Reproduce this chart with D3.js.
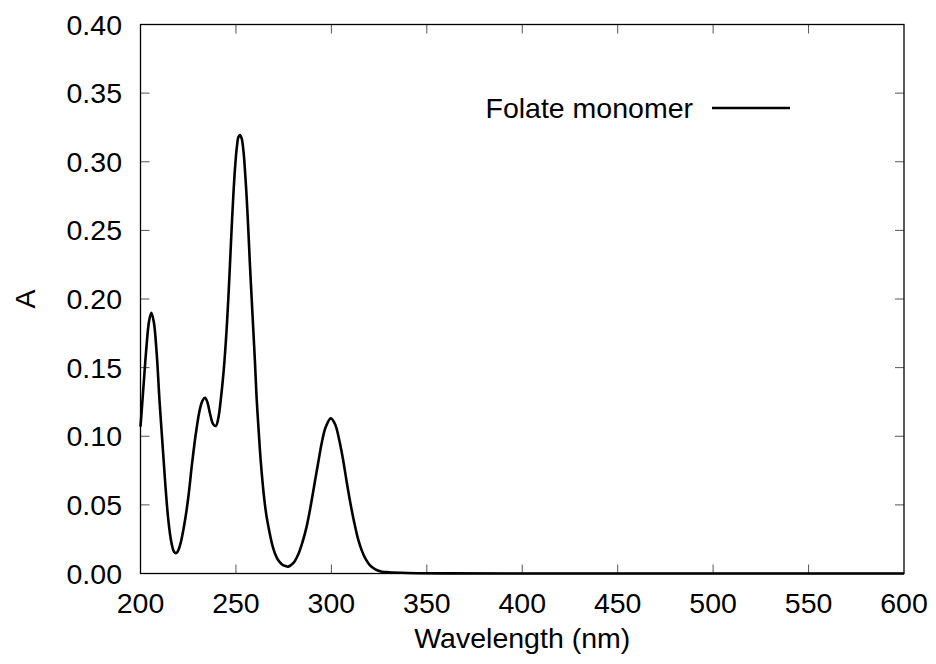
<!DOCTYPE html>
<html>
<head>
<meta charset="utf-8">
<script src="https://cdn.jsdelivr.net/npm/d3@7"></script>
<style>
  body { margin: 0; background: #fff; }
  svg text { font-family: "Liberation Sans", Arial, Helvetica, sans-serif; fill: #000; }
</style>
</head>
<body>
<div id="chart"></div>
<script>
// Folate monomer UV-Vis spectrum
const wavelength = [200, 201.5, 203, 204.5, 205.7, 207, 208.5, 210, 211.5, 213, 214.5, 216, 217.5, 218.5, 219.5,
  221, 223, 225, 227, 229, 231, 232.5, 233.8, 235, 236.5, 238, 239.5,
  241, 242, 243, 244, 245.1, 246, 246.9, 247.7, 248.6, 249.5, 250.5, 251.3, 252.1, 253, 254, 255, 255.6,
  256.5, 257.3, 258.2, 259.1, 260, 260.8, 262, 263.1, 264.7, 266, 267.3, 269, 270.4, 272, 274, 276, 277.4,
  280, 282.5, 285, 287, 289, 291, 293, 295, 297, 299.7, 302, 304, 306, 308, 310, 312, 314, 316, 318,
  320, 323, 326, 330, 340, 360, 400, 500, 600];
const absorbance = [0.107, 0.135, 0.163, 0.184, 0.190, 0.183, 0.160, 0.125, 0.095, 0.065, 0.040, 0.024, 0.016, 0.0147, 0.016,
  0.022, 0.036, 0.055, 0.080, 0.102, 0.119, 0.126, 0.128, 0.125, 0.116, 0.109, 0.1075,
  0.115, 0.126, 0.139, 0.155, 0.1774, 0.200, 0.226, 0.250, 0.2745, 0.295, 0.311, 0.318, 0.3195, 0.317, 0.307, 0.288, 0.2745,
  0.250, 0.226, 0.2015, 0.1774, 0.153, 0.1288, 0.102, 0.080, 0.056, 0.042, 0.032, 0.021, 0.0147, 0.010, 0.0068, 0.0054, 0.005,
  0.0075, 0.0135, 0.0235, 0.034, 0.048, 0.064, 0.080, 0.0955, 0.1065, 0.113, 0.1086, 0.098, 0.084, 0.067, 0.051, 0.037, 0.025, 0.0165, 0.0104,
  0.0063, 0.003, 0.0015, 0.0009, 0.0004, 0.0001, 0, 0, 0];

const xTicks = [200, 250, 300, 350, 400, 450, 500, 550, 600];
const yTicks = [0, 0.05, 0.10, 0.15, 0.20, 0.25, 0.30, 0.35, 0.40];
const seriesName = 'Folate monomer';

const W = 936, H = 664;
const margin = { left: 140.5, right: 32, top: 24.5, bottom: 90.5 };
const iw = W - margin.left - margin.right;
const ih = H - margin.top - margin.bottom;
const fontSize = '28.5px';

const svg = d3.select('#chart').append('svg')
  .attr('width', W).attr('height', H);

const x = d3.scaleLinear().domain([200, 600]).range([margin.left, margin.left + iw]);
const y = d3.scaleLinear().domain([0, 0.4]).range([margin.top + ih, margin.top]);

const tickLen = 9;
const g = svg.append('g');

// ticks (inward, mirrored on top and right)
xTicks.forEach(t => {
  if (t === 200 || t === 600) return;
  g.append('line').attr('x1', x(t)).attr('x2', x(t))
    .attr('y1', y(0)).attr('y2', y(0) - tickLen)
    .attr('stroke', '#555').attr('stroke-width', 1);
  g.append('line').attr('x1', x(t)).attr('x2', x(t))
    .attr('y1', y(0.4)).attr('y2', y(0.4) + tickLen)
    .attr('stroke', '#555').attr('stroke-width', 1);
});
yTicks.forEach(t => {
  if (t === 0 || t === 0.4) return;
  g.append('line').attr('x1', x(200)).attr('x2', x(200) + tickLen)
    .attr('y1', y(t)).attr('y2', y(t))
    .attr('stroke', '#555').attr('stroke-width', 1);
  g.append('line').attr('x1', x(600)).attr('x2', x(600) - tickLen)
    .attr('y1', y(t)).attr('y2', y(t))
    .attr('stroke', '#555').attr('stroke-width', 1);
});

// tick labels
g.selectAll('.xl').data(xTicks).enter().append('text')
  .attr('x', d => x(d)).attr('y', 613)
  .attr('text-anchor', 'middle').attr('font-size', fontSize)
  .text(d => d);
g.selectAll('.yl').data(yTicks).enter().append('text')
  .attr('x', 122).attr('y', d => y(d) + 10)
  .attr('text-anchor', 'end').attr('font-size', fontSize)
  .text(d => d.toFixed(2));

// axis titles
svg.append('text').attr('x', margin.left + iw / 2).attr('y', 648)
  .attr('text-anchor', 'middle').attr('font-size', fontSize)
  .text('Wavelength (nm)');
svg.append('text')
  .attr('transform', `translate(35, ${margin.top + ih / 2}) rotate(-90)`)
  .attr('text-anchor', 'middle').attr('font-size', fontSize)
  .text('A');

// spectrum
const pts = wavelength.map((w, i) => [w, absorbance[i]]);
const line = d3.line().x(d => x(d[0])).y(d => y(d[1])).curve(d3.curveCatmullRom.alpha(0.5));
svg.append('path').datum(pts)
  .attr('d', line)
  .attr('fill', 'none').attr('stroke', '#000').attr('stroke-width', 2.6)
  .attr('stroke-linejoin', 'round');

// frame
svg.append('rect').attr('x', margin.left).attr('y', margin.top)
  .attr('width', iw).attr('height', ih)
  .attr('fill', 'none').attr('stroke', '#000').attr('stroke-width', 1.3);

// legend
svg.append('text').attr('x', 693).attr('y', 118)
  .attr('text-anchor', 'end').attr('font-size', fontSize)
  .text(seriesName);
svg.append('line').attr('x1', 712).attr('x2', 790)
  .attr('y1', 108).attr('y2', 108)
  .attr('stroke', '#000').attr('stroke-width', 2.6);
</script>
</body>
</html>
